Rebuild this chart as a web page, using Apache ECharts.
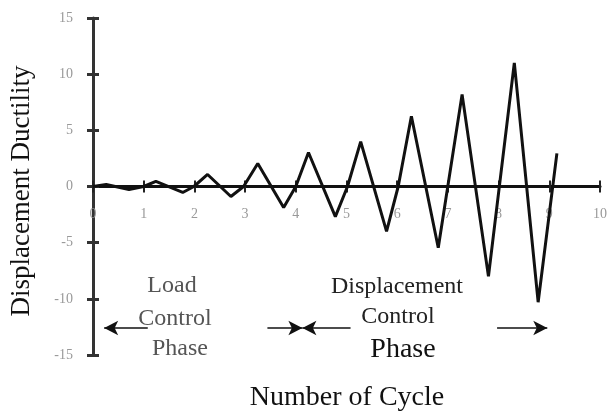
<!DOCTYPE html>
<html>
<head>
    <meta charset="utf-8">
    <script src="https://cdn.jsdelivr.net/npm/echarts@6/dist/echarts.min.js"></script>
</head>
<body style="margin:0">
    <div id="main" style="width:613px; height:412px"></div>
    <script type="text/javascript">
        // cycle number vs displacement ductility
        var cycleData = [0, 0.26, 0.71, 1.0, 1.24, 1.77, 1.99, 2.26, 2.72, 2.97, 3.25, 3.76, 4.0, 4.25, 4.78, 5.02, 5.28, 5.79, 6.02, 6.28, 6.81, 7.28, 7.80, 8.31, 8.78, 9.15];
        var ductilityData = [0, 0.18, -0.27, 0, 0.45, -0.53, 0, 1.07, -0.89, 0, 2.05, -1.87, 0, 3.03, -2.68, 0, 4.0, -4.0, 0, 6.25, -5.45, 8.2, -8.0, 11.0, -10.3, 2.95];
        // phase arrows: [from x, to x] at y = -12.6, head at the "to" end
        var arrowY = -12.6;
        var phaseArrows = [[1.08, 0.22], [3.44, 4.13], [5.08, 4.13], [7.97, 8.96]];

        var points = cycleData.map(function (x, i) { return [x, ductilityData[i]]; });
        var serif = '"Liberation Serif", "DejaVu Serif", serif';
        // grid is 337px tall, zero sits in the middle
        var zeroOffset = -168.5;

        var myChart = echarts.init(document.getElementById('main'));
        var option = {
            backgroundColor: '#fff',
            animation: false,
            grid: { left: 92, right: 13, top: 18, bottom: 57 },
            xAxis: [{
                type: 'value',
                min: 0,
                max: 10,
                interval: 1,
                position: 'bottom',
                offset: zeroOffset,
                axisLine: { onZero: false, lineStyle: { color: '#111', width: 3 } },
                axisTick: { show: true, length: 6, lineStyle: { color: '#222', width: 2 } },
                axisLabel: { margin: 21, color: '#999', fontSize: 14, fontFamily: serif },
                splitLine: { show: false }
            }, {
                type: 'value',
                min: 0,
                max: 10,
                interval: 1,
                position: 'bottom',
                offset: zeroOffset,
                axisLine: { show: false, onZero: false },
                axisTick: { show: true, inside: true, length: 6, lineStyle: { color: '#222', width: 2 } },
                axisLabel: { show: false },
                splitLine: { show: false }
            }],
            yAxis: [{
                type: 'value',
                min: -15,
                max: 15,
                interval: 5,
                name: 'Displacement Ductility',
                nameLocation: 'middle',
                nameGap: 58,
                nameTextStyle: { color: '#111', fontSize: 27, fontFamily: serif, padding: [0, 9, 0, 0] },
                axisLine: { onZero: false, lineStyle: { color: '#333', width: 3 } },
                axisTick: { show: true, length: 6, lineStyle: { color: '#333', width: 3 } },
                axisLabel: { margin: 20, color: '#999', fontSize: 14, fontFamily: serif },
                splitLine: { show: false }
            }, {
                type: 'value',
                min: -15,
                max: 15,
                interval: 5,
                position: 'left',
                axisLine: { show: false, onZero: false },
                axisTick: { show: true, inside: true, length: 6, lineStyle: { color: '#333', width: 3 } },
                axisLabel: { show: false },
                splitLine: { show: false }
            }],
            graphic: [
                { type: 'text', x: 347, y: 398, style: { text: 'Number of Cycle', font: '28px ' + serif, fill: '#111', align: 'center', verticalAlign: 'middle' } },
                { type: 'text', x: 172, y: 286, style: { text: 'Load', font: '24px ' + serif, fill: '#555', align: 'center', verticalAlign: 'middle' } },
                { type: 'text', x: 175, y: 319, style: { text: 'Control', font: '24px ' + serif, fill: '#555', align: 'center', verticalAlign: 'middle' } },
                { type: 'text', x: 180, y: 349, style: { text: 'Phase', font: '24px ' + serif, fill: '#555', align: 'center', verticalAlign: 'middle' } },
                { type: 'text', x: 397, y: 287, style: { text: 'Displacement', font: '24px ' + serif, fill: '#222', align: 'center', verticalAlign: 'middle' } },
                { type: 'text', x: 398, y: 317, style: { text: 'Control', font: '24px ' + serif, fill: '#222', align: 'center', verticalAlign: 'middle' } },
                { type: 'text', x: 403, y: 350, style: { text: 'Phase', font: '28px ' + serif, fill: '#111', align: 'center', verticalAlign: 'middle' } }
            ],
            series: [{
                type: 'line',
                data: points,
                showSymbol: false,
                lineStyle: { color: '#111', width: 3 },
                z: 3
            }, {
                type: 'line',
                data: [],
                markLine: {
                    silent: true,
                    symbol: ['none', 'arrow'],
                    symbolSize: [11, 14],
                    label: { show: false },
                    lineStyle: { color: '#111', width: 1.5, type: 'solid' },
                    data: phaseArrows.map(function (a) {
                        return [{ coord: [a[0], arrowY] }, { coord: [a[1], arrowY] }];
                    })
                }
            }]
        };
        myChart.setOption(option);
    </script>
</body>
</html>
